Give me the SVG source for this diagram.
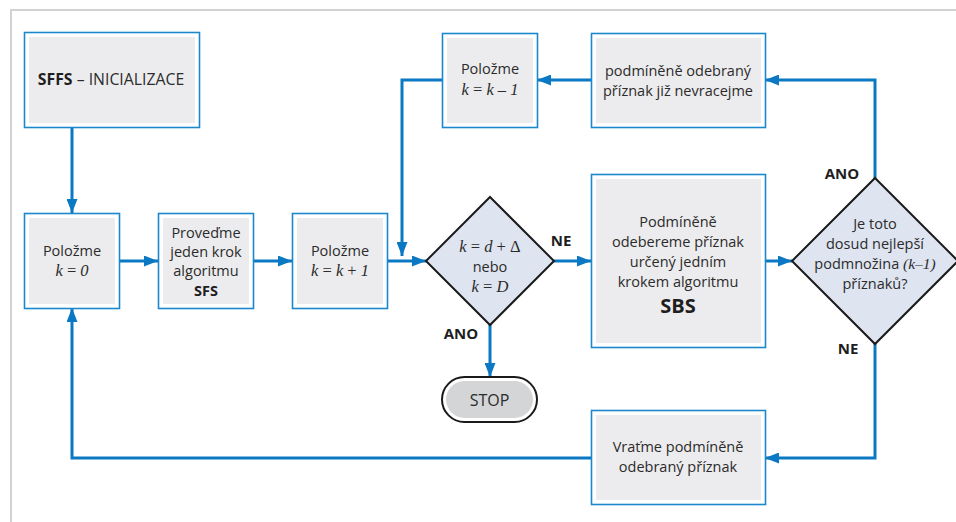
<svg xmlns="http://www.w3.org/2000/svg" width="956" height="522" viewBox="0 0 956 522">
<defs>
<style>
.frame{fill:none;stroke:#d2d2d2;stroke-width:2}
.bo{fill:#fff;stroke:#1b87cc;stroke-width:1.6}
.bi{fill:#ececee}
.dia{fill:#dfe4f1;stroke:#1a1a1a;stroke-width:2}
.con{fill:none;stroke:#0a78c3;stroke-width:3}
.t{font-family:"Open Sans","Noto Sans",sans-serif;font-size:14.5px;fill:#2b2b2b;text-anchor:middle}
.b{font-weight:bold;fill:#1e1e1e}
.lab{font-family:"Open Sans","Noto Sans",sans-serif;font-size:15px;font-weight:bold;fill:#1e1e1e;text-anchor:middle}
.m{font-family:"Liberation Serif","Times New Roman",serif;font-size:16.5px;fill:#2b2b2b;text-anchor:middle}
.i{font-style:italic}
</style>
<marker id="ah" markerUnits="userSpaceOnUse" markerWidth="15" markerHeight="11" refX="14" refY="5.5" orient="auto">
<path d="M0,0 L14,5.5 L0,11 z" fill="#0a78c3"/>
</marker>
</defs>
<rect width="956" height="522" fill="#fff"/>
<path class="frame" d="M11,522 V10 H956"/>

<g id="connectors">
<path class="con" d="M72,127 V213" marker-end="url(#ah)"/>
<path class="con" d="M119,261 H158" marker-end="url(#ah)"/>
<path class="con" d="M253,261 H292" marker-end="url(#ah)"/>
<path class="con" d="M388,261 H426" marker-end="url(#ah)"/>
<path class="con" d="M554,261 H591" marker-end="url(#ah)"/>
<path class="con" d="M765,261 H792" marker-end="url(#ah)"/>
<path class="con" d="M875,178 V80 H765" marker-end="url(#ah)"/>
<path class="con" d="M591,80 H537" marker-end="url(#ah)"/>
<path class="con" d="M442,80 H402 V256" marker-end="url(#ah)"/>
<path class="con" d="M875,343 V458 H765" marker-end="url(#ah)"/>
<path class="con" d="M591,458 H72 V308" marker-end="url(#ah)"/>
<path class="con" d="M490,323 V377" marker-end="url(#ah)"/>
</g>

<g id="sffs">
<rect class="bo" x="24.5" y="32.5" width="175" height="95"/>
<rect class="bi" x="29" y="37" width="166" height="86"/>
<text class="t" x="111" y="85" style="font-size:15.8px"><tspan class="b">SFFS</tspan> – INICIALIZACE</text>
</g>

<g id="k0">
<rect class="bo" x="24.5" y="213.5" width="95" height="95"/>
<rect class="bi" x="29" y="218" width="86" height="86"/>
<text class="t" x="72" y="256">Položme</text>
<text class="m" x="72" y="276"><tspan class="i">k</tspan> = <tspan class="i">0</tspan></text>
</g>

<g id="sfs">
<rect class="bo" x="158.5" y="213.5" width="95" height="95"/>
<rect class="bi" x="163" y="218" width="86" height="86"/>
<text class="t" x="206" y="238">Proveďme</text>
<text class="t" x="206" y="257">jeden krok</text>
<text class="t" x="206" y="276">algoritmu</text>
<text class="t b" x="206" y="296">SFS</text>
</g>

<g id="kplus">
<rect class="bo" x="292.5" y="213.5" width="95" height="95"/>
<rect class="bi" x="297" y="218" width="86" height="86"/>
<text class="t" x="340" y="256">Položme</text>
<text class="m" x="340" y="276"><tspan class="i">k</tspan> = <tspan class="i">k</tspan> + <tspan class="i">1</tspan></text>
</g>

<g id="cond1">
<polygon class="dia" points="490,197 554,261 490,325 426,261"/>
<text class="m" x="490" y="252"><tspan class="i">k</tspan> = <tspan class="i">d</tspan> + Δ</text>
<text class="t" x="490" y="272">nebo</text>
<text class="m" x="490" y="292"><tspan class="i">k</tspan> = <tspan class="i">D</tspan></text>
<text class="lab" x="561" y="246">NE</text>
<text class="lab" x="461" y="339">ANO</text>
</g>

<g id="stop">
<rect x="442" y="377" width="95" height="45" rx="22.5" fill="#fff" stroke="#1a1a1a" stroke-width="2"/>
<rect x="446" y="381" width="87" height="37" rx="18.5" fill="#d4d5d7"/>
<text class="t" x="489.5" y="406" style="font-size:16px">STOP</text>
</g>

<g id="sbs">
<rect class="bo" x="591.5" y="174.5" width="174" height="173"/>
<rect class="bi" x="596" y="179" width="165" height="164"/>
<text class="t" x="678" y="227">Podmíněně</text>
<text class="t" x="678" y="247">odebereme příznak</text>
<text class="t" x="678" y="267">určený jedním</text>
<text class="t" x="678" y="287">krokem algoritmu</text>
<text class="t b" x="678" y="313" style="font-size:20px">SBS</text>
</g>

<g id="cond2">
<polygon class="dia" points="875,178 958,261 875,344 792,261"/>
<text class="t" x="875" y="229">Je toto</text>
<text class="t" x="875" y="249">dosud nejlepší</text>
<text class="t" x="875" y="269">podmnožina <tspan class="i" style="font-family:'Liberation Serif',serif;font-size:15.5px">(k–1)</tspan></text>
<text class="t" x="875" y="289">příznaků?</text>
<text class="lab" x="842" y="179">ANO</text>
<text class="lab" x="848" y="354">NE</text>
</g>

<g id="nevracejme">
<rect class="bo" x="591.5" y="33.5" width="174" height="94"/>
<rect class="bi" x="596" y="38" width="165" height="85"/>
<text class="t" x="678" y="76">podmíněně odebraný</text>
<text class="t" x="678" y="96">příznak již nevracejme</text>
</g>

<g id="kminus">
<rect class="bo" x="442.5" y="33.5" width="95" height="94"/>
<rect class="bi" x="447" y="38" width="86" height="85"/>
<text class="t" x="490" y="74">Položme</text>
<text class="m" x="490" y="95"><tspan class="i">k</tspan> = <tspan class="i">k</tspan> – <tspan class="i">1</tspan></text>
</g>

<g id="vratme">
<rect class="bo" x="591.5" y="410.5" width="174" height="94"/>
<rect class="bi" x="596" y="415" width="165" height="85"/>
<text class="t" x="678" y="452">Vraťme podmíněně</text>
<text class="t" x="678" y="472">odebraný příznak</text>
</g>
</svg>
